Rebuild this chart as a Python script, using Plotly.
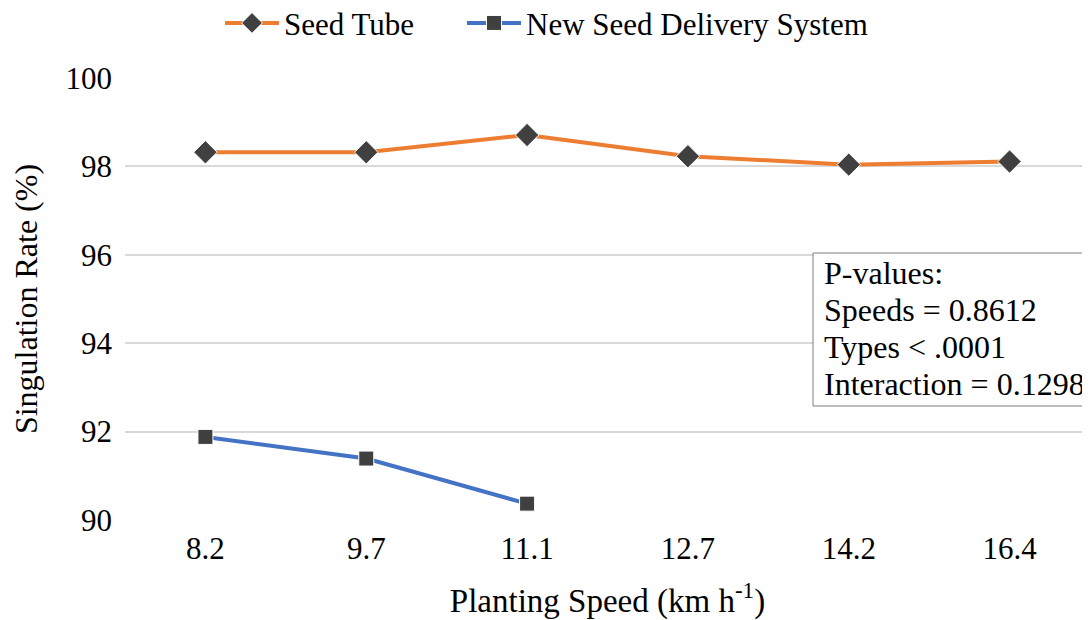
import plotly.graph_objects as go

speeds = ["8.2", "9.7", "11.1", "12.7", "14.2", "16.4"]
seed_tube = [98.32, 98.32, 98.71, 98.23, 98.04, 98.11]
new_speeds = ["8.2", "9.7", "11.1"]
new_system = [91.88, 91.39, 90.37]
pvalue_lines = ["P-values:", "Speeds = 0.8612", "Types < .0001", "Interaction = 0.1298"]

FONT = "Liberation Serif"

# plot area in page pixels (page has 8px body margin)
PX0, PX1, PY0, PY1 = 125, 1090, 78, 520
def px(x):
    return (x - PX0) / (PX1 - PX0)
def py(y):
    return (PY1 - y) / (PY1 - PY0)

fig = go.Figure()
fig.add_trace(go.Scatter(
    x=speeds, y=seed_tube, name="Seed Tube", mode="lines+markers",
    line=dict(color="#ED7D31", width=4), legend="legend",
    marker=dict(symbol="diamond", size=18, color="#404040", line=dict(color="white", width=1)),
))
fig.add_trace(go.Scatter(
    x=new_speeds, y=new_system, name="New Seed Delivery System", mode="lines+markers",
    line=dict(color="#4472C4", width=4), legend="legend2",
    marker=dict(symbol="square", size=15, color="#404040", line=dict(color="white", width=1)),
))

fig.add_shape(type="rect", xref="paper", yref="paper",
              x0=px(813), x1=px(1100), y0=py(406), y1=py(253),
              line=dict(color="#7F7F7F", width=1), fillcolor="white", layer="above")
for i, line in enumerate(pvalue_lines):
    fig.add_annotation(
        xref="paper", yref="paper", x=px(822), y=py(273 + 37 * i),
        xanchor="left", yanchor="middle", text=line, showarrow=False,
        font=dict(family=FONT, size=32, color="black"),
    )

legend_common = dict(orientation="h", xanchor="left", y=0.975, yanchor="middle",
                     yref="container", itemwidth=54,
                     font=dict(family=FONT, size=31, color="black"))

fig.update_layout(
    width=1082, height=612,
    margin=dict(l=117, r=0, t=70, b=100, autoexpand=False),
    paper_bgcolor="white", plot_bgcolor="white",
    font=dict(family=FONT, size=30, color="black"),
    showlegend=True,
    legend=dict(x=px(220), **legend_common),
    legend2=dict(x=px(462), **legend_common),
    xaxis=dict(
        type="category", categoryorder="array", categoryarray=speeds,
        range=[-0.5, 5.5], showgrid=False, zeroline=False, showline=False,
        ticks="", tickfont=dict(family=FONT, size=31), automargin=False,
        ticklabelstandoff=7,
        title=dict(text="Planting Speed (km h<sup>-1</sup>)", font=dict(family=FONT, size=33), standoff=26),
    ),
    yaxis=dict(
        range=[90, 100], dtick=2, showgrid=True, gridcolor="#D9D9D9", gridwidth=2,
        zeroline=False, showline=False, ticks="", ticklen=0, automargin=False,
        ticklabelstandoff=12,
        tickfont=dict(family=FONT, size=31),
        title=dict(text="Singulation Rate (%)", font=dict(family=FONT, size=32), standoff=24),
    ),
)

fig.write_html("out.html")
